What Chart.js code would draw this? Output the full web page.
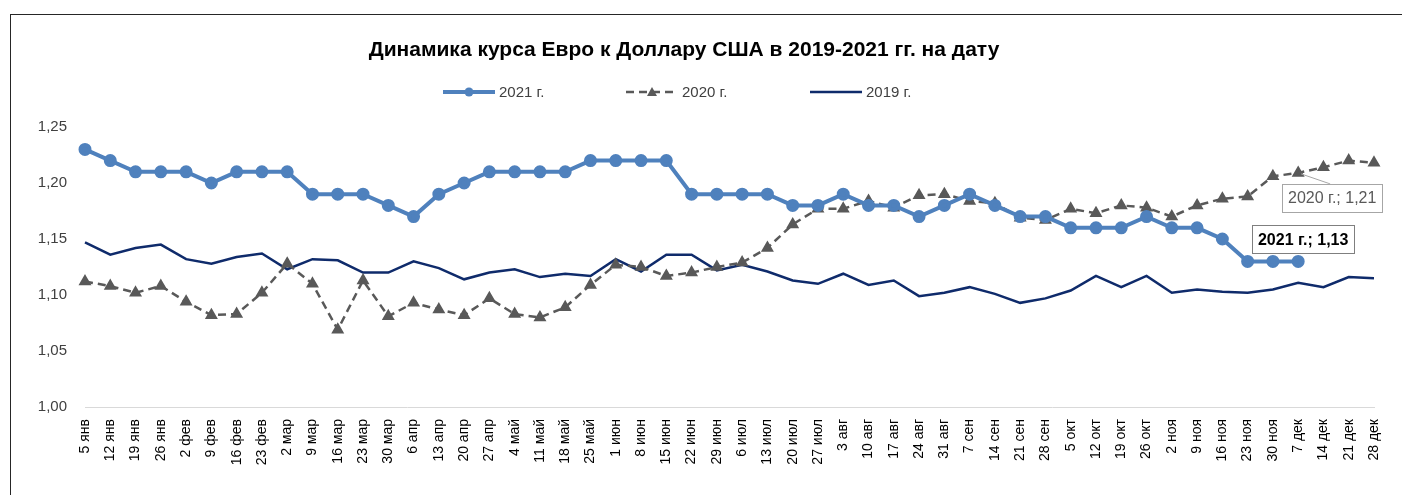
<!DOCTYPE html>
<html>
<head>
<meta charset="utf-8">
<script src="https://cdn.jsdelivr.net/npm/chart.js@4.4.0/dist/chart.umd.min.js"></script>
<style>
  body { margin: 0; background: #fff; }
  #wrap { position: relative; width: 1402px; height: 495px; overflow: hidden; }
  #frame { position: absolute; left: 10px; top: 14px; width: 1500px; height: 600px; border: 1px solid #262626; }
  canvas { position: absolute; left: 0; top: 0; }
</style>
</head>
<body>
<div id="wrap">
  <div id="frame"></div>
  <canvas id="chart" width="1402" height="495"></canvas>
</div>
<script>
// Даты (недели)
const labels = ["5 янв", "12 янв", "19 янв", "26 янв", "2 фев", "9 фев", "16 фев", "23 фев",
  "2 мар", "9 мар", "16 мар", "23 мар", "30 мар", "6 апр", "13 апр", "20 апр", "27 апр",
  "4 май", "11 май", "18 май", "25 май", "1 июн", "8 июн", "15 июн", "22 июн", "29 июн",
  "6 июл", "13 июл", "20 июл", "27 июл", "3 авг", "10 авг", "17 авг", "24 авг", "31 авг",
  "7 сен", "14 сен", "21 сен", "28 сен", "5 окт", "12 окт", "19 окт", "26 окт",
  "2 ноя", "9 ноя", "16 ноя", "23 ноя", "30 ноя", "7 дек", "14 дек", "21 дек", "28 дек"];

// Курс евро к доллару
const rate2021 = [1.23, 1.22, 1.21, 1.21, 1.21, 1.20, 1.21, 1.21, 1.21, 1.19, 1.19, 1.19, 1.18,
  1.17, 1.19, 1.20, 1.21, 1.21, 1.21, 1.21, 1.22, 1.22, 1.22, 1.22, 1.19, 1.19, 1.19, 1.19,
  1.18, 1.18, 1.19, 1.18, 1.18, 1.17, 1.18, 1.19, 1.18, 1.17, 1.17, 1.16, 1.16, 1.16, 1.17,
  1.16, 1.16, 1.15, 1.13, 1.13, 1.13];

const rate2020 = [1.112, 1.108, 1.102, 1.108, 1.094, 1.082, 1.083, 1.102, 1.128, 1.110, 1.069,
  1.113, 1.081, 1.093, 1.087, 1.082, 1.097, 1.083, 1.080, 1.089, 1.109, 1.127, 1.125, 1.117,
  1.120, 1.125, 1.129, 1.142, 1.163, 1.177, 1.177, 1.184, 1.178, 1.189, 1.190, 1.184, 1.182,
  1.169, 1.167, 1.177, 1.173, 1.180, 1.178, 1.170, 1.180, 1.186, 1.188, 1.206, 1.209, 1.214,
  1.220, 1.218];

const rate2019 = [1.147, 1.136, 1.142, 1.145, 1.132, 1.128, 1.134, 1.137, 1.123, 1.132, 1.131,
  1.120, 1.120, 1.130, 1.124, 1.114, 1.120, 1.123, 1.116, 1.119, 1.117, 1.132, 1.121, 1.136,
  1.136, 1.122, 1.127, 1.121, 1.113, 1.110, 1.119, 1.109, 1.113, 1.099, 1.102, 1.107, 1.101,
  1.093, 1.097, 1.104, 1.117, 1.107, 1.117, 1.102, 1.105, 1.103, 1.102, 1.105, 1.111, 1.107,
  1.116, 1.115];

const yTicks = [1.00, 1.05, 1.10, 1.15, 1.20, 1.25];

const fmt = v => v.toFixed(2).replace(".", ",");
const FONT = "'Liberation Sans', Arial, sans-serif";

// Легенда, заголовок и подписи рисуются вручную
const decor = {
  id: "decor",
  afterDraw(chart) {
    const c = chart.ctx;
    c.save();
    c.fillStyle = "#000";
    c.font = "bold 21px " + FONT;
    c.textAlign = "center";
    c.textBaseline = "middle";
    c.fillText("Динамика курса Евро к Доллару США в 2019-2021 гг. на дату", 684, 50);

    // легенда
    const items = [
      { x: 443, ds: 0 }, { x: 626, ds: 1 }, { x: 810, ds: 2 }
    ];
    const y = 92;
    items.forEach(it => {
      const d = chart.data.datasets[it.ds];
      c.strokeStyle = d.borderColor;
      c.lineWidth = d.borderWidth;
      c.setLineDash(d.borderDash || []);
      c.beginPath();
      c.moveTo(it.x, y);
      c.lineTo(it.x + 52, y);
      c.stroke();
      c.setLineDash([]);
      if (d.pointRadius > 0) {
        c.fillStyle = d.pointBackgroundColor;
        const px = it.x + 26;
        c.beginPath();
        if (d.pointStyle === "triangle") {
          const r = d.pointRadius;
          c.moveTo(px, y - r);
          c.lineTo(px + r, y + r * 0.8);
          c.lineTo(px - r, y + r * 0.8);
          c.closePath();
        } else {
          c.arc(px, y, d.pointRadius, 0, Math.PI * 2);
        }
        c.fill();
      }
      c.fillStyle = "#404040";
      c.font = "15px " + FONT;
      c.textAlign = "left";
      c.fillText(d.label, it.x + 56, y + 1);
    });

    // подписи значений
    const box = (ds, idx, dx, dy, bold, color, border, leader) => {
      const pt = chart.getDatasetMeta(ds).data[idx];
      const v = chart.data.datasets[ds].data[idx];
      const txt = chart.data.datasets[ds].label + "; " + fmt(v);
      c.font = (bold ? "bold " : "") + "16px " + FONT;
      const w = c.measureText(txt).width + 12;
      const h = 28;
      const cx = pt.x + dx, cy = pt.y + dy;
      if (leader) {
        c.strokeStyle = "#a6a6a6";
        c.lineWidth = 1;
        c.beginPath();
        c.moveTo(pt.x + 3, pt.y + 1);
        c.lineTo(cx - 2, cy - h / 2);
        c.stroke();
      }
      c.fillStyle = "#fff";
      c.fillRect(cx - w / 2, cy - h / 2, w, h);
      c.strokeStyle = border;
      c.lineWidth = 1;
      c.strokeRect(Math.round(cx - w / 2) + 0.5, Math.round(cy - h / 2) + 0.5, Math.round(w), h);
      c.fillStyle = color;
      c.textAlign = "center";
      c.fillText(txt, cx, cy + 1);
    };
    box(1, 48, 34, 25, false, "#595959", "#a6a6a6", true);
    box(0, 48, 5, -22, true, "#000", "#7f7f7f", false);
    c.restore();
  }
};

new Chart(document.getElementById("chart"), {
  type: "line",
  data: {
    labels: labels,
    datasets: [{
      label: "2021 г.",
      data: rate2021,
      borderColor: "#4f81bd",
      backgroundColor: "#4f81bd",
      pointBackgroundColor: "#4f81bd",
      pointBorderColor: "#4f81bd",
      borderWidth: 4,
      pointRadius: 4.5,
      pointStyle: "circle",
      tension: 0
    }, {
      label: "2020 г.",
      data: rate2020,
      borderColor: "#595959",
      backgroundColor: "#595959",
      pointBackgroundColor: "#595959",
      pointBorderColor: "#595959",
      borderWidth: 2.5,
      borderDash: [8, 5],
      pointRadius: 5,
      pointStyle: "triangle",
      tension: 0
    }, {
      label: "2019 г.",
      data: rate2019,
      borderColor: "#0f2b6b",
      backgroundColor: "#0f2b6b",
      borderWidth: 2.5,
      pointRadius: 0,
      tension: 0
    }]
  },
  options: {
    responsive: false,
    animation: false,
    layout: { padding: { left: 0, right: 28, top: 127, bottom: 20 } },
    plugins: {
      legend: { display: false },
      title: { display: false },
      tooltip: { enabled: false }
    },
    scales: {
      x: {
        offset: false,
        grid: { display: false },
        border: { display: true, color: "#d9d9d9", width: 1 },
        ticks: {
          autoSkip: false,
          maxRotation: 90,
          minRotation: 90,
          color: "#000",
          font: { family: FONT, size: 14 },
          padding: 4
        },
        afterFit: s => { s.height = 68; }
      },
      y: {
        min: 1.0,
        max: 1.25,
        grid: { display: false },
        border: { display: false },
        afterBuildTicks: s => { s.ticks = yTicks.map(v => ({ value: v })); },
        ticks: {
          color: "#404040",
          font: { family: FONT, size: 15 },
          padding: 10,
          callback: v => fmt(v)
        },
        afterFit: s => { s.width = 85; }
      }
    }
  },
  plugins: [decor]
});
</script>
</body>
</html>
